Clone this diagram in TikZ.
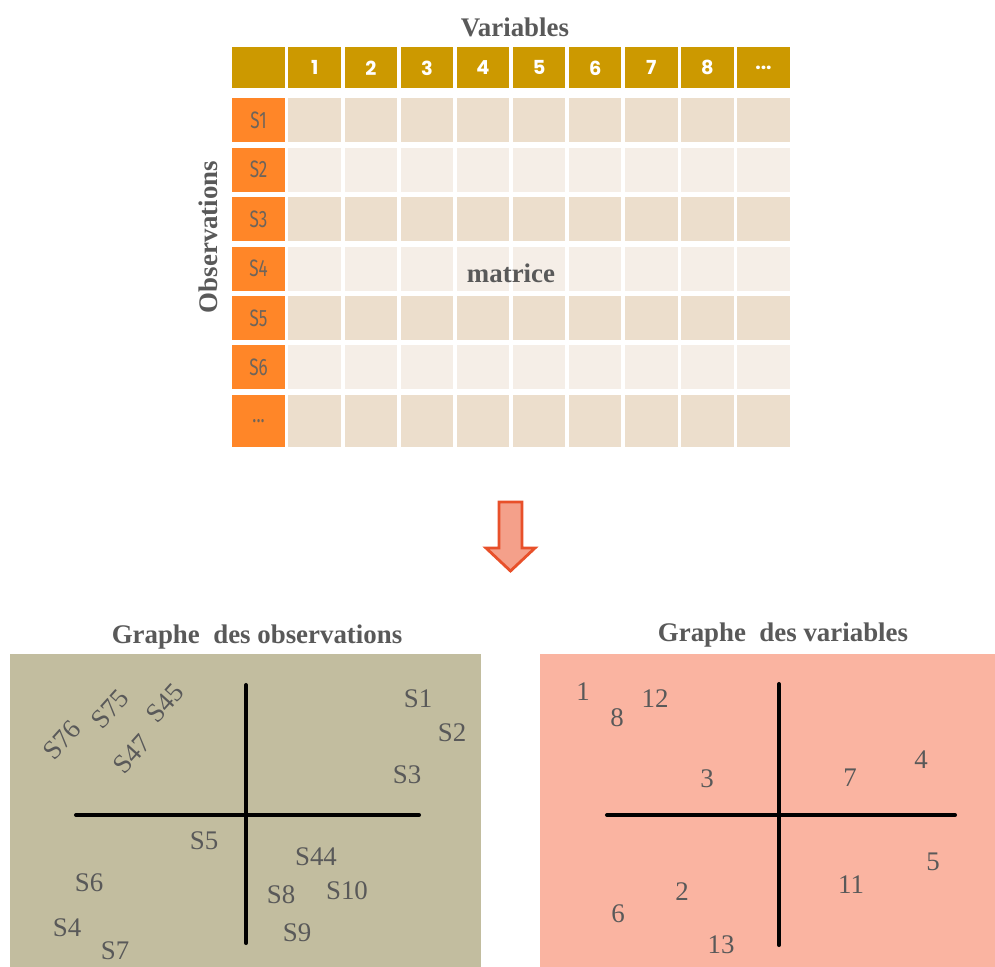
\documentclass[tikz,border=0pt]{standalone}
\usepackage{fontspec}
\setmainfont{Liberation Serif}
\newfontfamily\hdrfont{Poppins}
\newfontfamily\obsfont[FakeStretch=0.72]{Fira Sans}
\def\mydots{...}
\definecolor{hdrgold}{RGB}{204,153,0}
\definecolor{obsorange}{RGB}{255,134,40}
\definecolor{rowdark}{RGB}{236,222,204}
\definecolor{rowlight}{RGB}{245,238,231}
\definecolor{txtgray}{RGB}{89,89,89}
\definecolor{obsgray}{RGB}{110,100,90}
\definecolor{leftbg}{RGB}{194,189,159}
\definecolor{rightbg}{RGB}{250,180,161}
\definecolor{arrowfill}{RGB}{244,160,138}
\definecolor{arrowdraw}{RGB}{232,80,42}
\tikzset{
  cellbox/.style={draw=none, inner sep=0pt, minimum width=1.05cm, anchor=north west},
  hdrcell/.style={cellbox, fill=hdrgold, minimum height=0.82cm, text=white, font=\hdrfont\bfseries\fontsize{11}{13}\selectfont},
  obscell/.style={cellbox, fill=obsorange, text=obsgray, font=\obsfont\fontsize{13.5}{15}\selectfont},
  titletxt/.style={text=txtgray, font=\bfseries\fontsize{15.3}{18}\selectfont, inner sep=0pt},
  pt/.style={text=txtgray, font=\fontsize{15.3}{18}\selectfont, inner sep=0pt},
  axis/.style={line width=2.3pt, black, line cap=round}
}
\begin{document}
\begin{tikzpicture}[x=0.02cm, y=-0.02cm]
\useasboundingbox (0,0) rectangle (995,967);
% header
\node[hdrcell] (h0) at (232,47) {};
\foreach \j/\t in {1/1,2/2,3/3,4/4,5/5,6/6,7/7,8/8,9/\mydots} {
  \node[hdrcell] (h\j) at ({232+\j*56.1},47) {\t};
}
% rows
\foreach \i/\t in {1/S1,2/S2,3/S3,4/S4,5/S5,6/S6} {
  \pgfmathsetmacro{\yy}{98+(\i-1)*49.4}
  \pgfmathtruncatemacro{\odd}{mod(\i,2)}
  \ifnum\odd=1 \def\rc{rowdark}\else\def\rc{rowlight}\fi
  \node[obscell, minimum height=0.88cm] (r\i) at (232,\yy) {\t};
  \foreach \j in {1,2,3,4,5,6,7,8,9} {
    \node[cellbox, fill=\rc, minimum height=0.88cm] (c\i-\j) at ({232+\j*56.1},\yy) {};
  }
}
\node[obscell, minimum height=1.04cm] (r7) at (232,394.4) {\mydots};
\foreach \j in {1,2,3,4,5,6,7,8,9} {
  \node[cellbox, fill=rowdark, minimum height=1.04cm] (c7-\j) at ({232+\j*56.1},394.4) {};
}
\node[titletxt] (vartitle) at (515,27) {Variables};
\node[titletxt, rotate=90] (obstitle) at (208,237) {Observations};
\node[titletxt] (matrice) at (511,273) {matrice};
% arrow
\draw[fill=arrowfill, draw=arrowdraw, line width=1.6pt, line join=miter]
  (499,502) -- (522,502) -- (522,548) -- (535,548) -- (510.5,571) -- (486,548) -- (499,548) -- cycle;
% left graph
\node[titletxt] (gobs) at (257,637) {Graphe\ \ des observations};
\fill[leftbg] (10,654) rectangle (481,967);
\draw[axis] (246,685) -- (246,943);
\draw[axis] (76,815) -- (419,815);
\node[pt] (s1) at (418,699) {S1};
\node[pt] (s2) at (452,733) {S2};
\node[pt] (s3) at (407,775) {S3};
\node[pt] (s5) at (204,841) {S5};
\node[pt] (s44) at (316,857) {S44};
\node[pt] (s6) at (89,883) {S6};
\node[pt] (s8) at (281,895) {S8};
\node[pt] (s10) at (347,891) {S10};
\node[pt] (s4) at (67,928) {S4};
\node[pt] (s9) at (297,933) {S9};
\node[pt] (s7) at (115,951) {S7};
\node[pt, rotate=48] (s76) at (62,740) {S76};
\node[pt, rotate=48] (s75) at (110,709) {S75};
\node[pt, rotate=48] (s45) at (165,703) {S45};
\node[pt, rotate=48] (s47) at (132,754) {S47};
% right graph
\node[titletxt] (gvar) at (783,635) {Graphe\ \ des variables};
\fill[rightbg] (540,654) rectangle (995,967);
\draw[axis] (779,684) -- (779,945);
\draw[axis] (607,815) -- (955,815);
\node[pt] (v1) at (583,692) {1};
\node[pt] (v8) at (617,718) {8};
\node[pt] (v12) at (655,699) {12};
\node[pt] (v3) at (707,779) {3};
\node[pt] (v7) at (850,778) {7};
\node[pt] (v4) at (921,760) {4};
\node[pt] (v5) at (933,862) {5};
\node[pt] (v11) at (851,885) {11};
\node[pt] (v2) at (682,892) {2};
\node[pt] (v6) at (618,914) {6};
\node[pt] (v13) at (721,945) {13};
\end{tikzpicture}
\end{document}
